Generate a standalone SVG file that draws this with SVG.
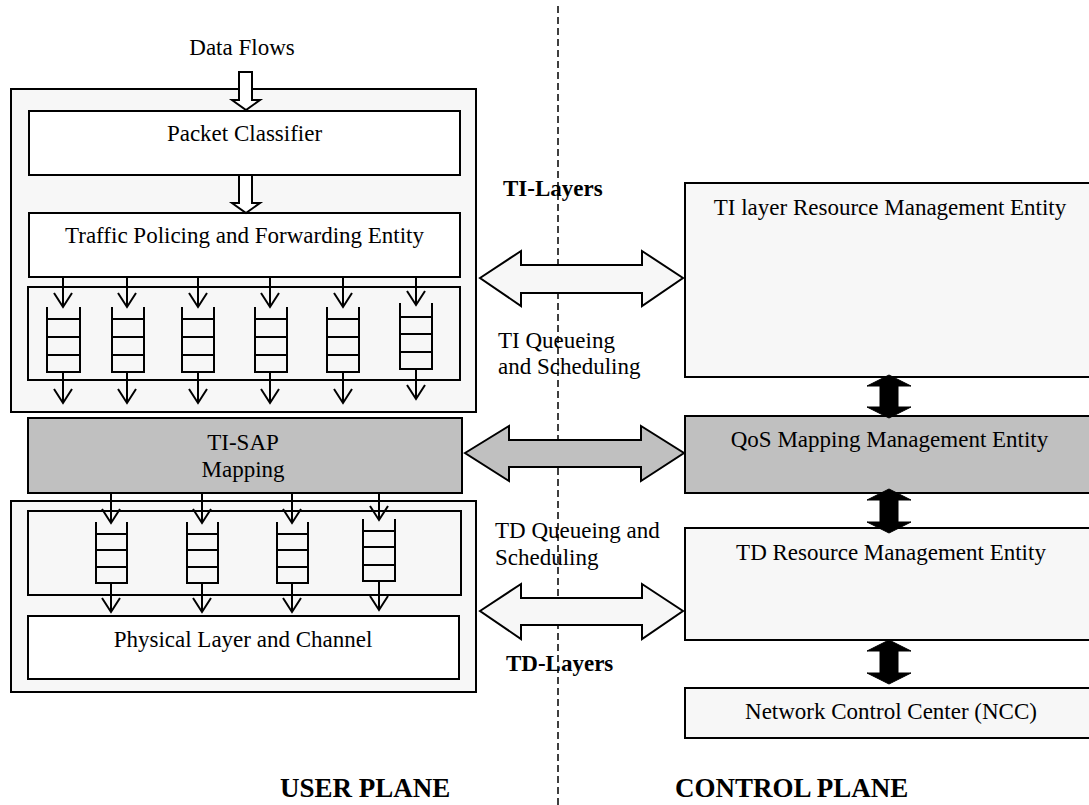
<svg xmlns="http://www.w3.org/2000/svg" width="1089" height="805" viewBox="0 0 1089 805">
  <style>
    .box { stroke: #000; stroke-width: 2; }
    .light { fill: #f7f7f7; }
    .white { fill: #ffffff; }
    .grey { fill: #c0c0c0; }
    .t { font-family: "Liberation Serif", "Times New Roman", serif; font-size: 23px; fill: #000; }
    .b { font-family: "Liberation Serif", "Times New Roman", serif; font-size: 23px; font-weight: bold; fill: #000; }
    .big { font-family: "Liberation Serif", "Times New Roman", serif; font-size: 27px; font-weight: bold; fill: #000; }
    .mid { text-anchor: middle; }
    .q { fill: none; stroke: #000; stroke-width: 2; }
    .flow { fill: none; stroke: #000; stroke-width: 2; }
    .dbl { stroke: #000; stroke-width: 2; stroke-linejoin: miter; }
    .solid { fill: #000; stroke: #000; stroke-width: 1; }
    .divider { stroke: #000; stroke-width: 1.5; stroke-dasharray: 7 4; fill: none; }
  </style>

  <rect width="1089" height="805" fill="#ffffff"/>

  <!-- user plane, upper block (TI layers) -->
  <g id="ti-block">
    <rect class="box light" x="11" y="89" width="465" height="323"/>
  </g>

  <g id="packet-classifier">
    <rect class="box white" x="29" y="111" width="431" height="64"/>
    <text class="t mid" x="244.5" y="141">Packet Classifier</text>
  </g>

  <g id="traffic-policing">
    <rect class="box white" x="29" y="213" width="431" height="64"/>
    <text class="t mid" x="244.5" y="243">Traffic Policing and Forwarding Entity</text>
  </g>

  <g id="ti-queues">
    <rect class="box light" x="28" y="287" width="432" height="93"/>
    <path class="q" d="M47,307 V372 H80 V307 M47,319 H80 M47,337 H80 M47,355 H80"/>
    <path class="q" d="M112,307 V372 H144 V307 M112,319 H144 M112,337 H144 M112,355 H144"/>
    <path class="q" d="M182,307 V372 H214 V307 M182,319 H214 M182,337 H214 M182,355 H214"/>
    <path class="q" d="M255,307 V372 H287 V307 M255,319 H287 M255,337 H287 M255,355 H287"/>
    <path class="q" d="M327,307 V372 H359 V307 M327,319 H359 M327,337 H359 M327,355 H359"/>
    <path class="q" d="M400,303 V369 H432 V303 M400,317 H432 M400,334 H432 M400,352 H432"/>
  </g>

  <g id="ti-sap-mapping">
    <rect class="box grey" x="28" y="418" width="434" height="75"/>
    <text class="t mid" x="243" y="450">TI-SAP</text>
    <text class="t mid" x="243" y="477">Mapping</text>
  </g>

  <!-- user plane, lower block (TD layers) -->
  <g id="td-block">
    <rect class="box light" x="11" y="501" width="465" height="191"/>
  </g>

  <g id="td-queues">
    <rect class="box light" x="28" y="511" width="433" height="84"/>
    <path class="q" d="M96,522 V583 H127 V522 M96,534 H127 M96,550 H127 M96,567 H127"/>
    <path class="q" d="M187,522 V583 H218 V522 M187,534 H218 M187,550 H218 M187,567 H218"/>
    <path class="q" d="M277,522 V583 H308 V522 M277,534 H308 M277,550 H308 M277,567 H308"/>
    <path class="q" d="M363,519 V581 H395 V519 M363,531 H395 M363,547 H395 M363,565 H395"/>
  </g>

  <g id="physical-layer">
    <rect class="box white" x="28" y="616" width="431" height="63"/>
    <text class="t mid" x="243" y="647">Physical Layer and Channel</text>
  </g>

  <!-- control plane entities -->
  <g id="ti-rme">
    <rect class="box light" x="685" y="183" width="420" height="194"/>
    <text class="t mid" x="890" y="215">TI layer Resource Management Entity</text>
  </g>

  <g id="qos-mme">
    <rect class="box grey" x="685" y="416" width="420" height="77"/>
    <text class="t mid" x="889.5" y="447">QoS Mapping Management Entity</text>
  </g>

  <g id="td-rme">
    <rect class="box light" x="685" y="528" width="420" height="112"/>
    <text class="t mid" x="891" y="560">TD Resource Management Entity</text>
  </g>

  <g id="ncc">
    <rect class="box light" x="685" y="688" width="420" height="50"/>
    <text class="t mid" x="891" y="719">Network Control Center (NCC)</text>
  </g>

  <!-- free labels -->
  <g id="labels">
    <text class="t mid" x="242" y="55">Data Flows</text>
    <text class="b" x="503" y="196">TI-Layers</text>
    <text class="t" x="498" y="348">TI Queueing</text>
    <text class="t" x="498" y="374">and Scheduling</text>
    <text class="t" x="495" y="538">TD Queueing and</text>
    <text class="t" x="495" y="565">Scheduling</text>
    <text class="b" x="506" y="671">TD-Layers</text>
    <text class="big" x="280" y="797">USER PLANE</text>
    <text class="big" x="675" y="797">CONTROL PLANE</text>
  </g>

  <!-- plane divider -->
  <line class="divider" x1="558" y1="6" x2="558" y2="805"/>

  <g id="connectors">
    <!-- incoming data flow arrows -->
    <polygon class="dbl white" points="239,72 252,72 252,100 260,100 246,110 232,100 239,100"/>
    <polygon class="dbl white" points="239,175 252,175 252,203 260,203 246,213 232,203 239,203"/>

    <!-- per-queue flows, TI -->
    <path class="flow" d="M63,277 V307 M54,293 L63,307 L72,293"/>
    <path class="flow" d="M127,277 V307 M118,293 L127,307 L136,293"/>
    <path class="flow" d="M198,277 V307 M189,293 L198,307 L207,293"/>
    <path class="flow" d="M270,277 V307 M261,293 L270,307 L279,293"/>
    <path class="flow" d="M343,277 V307 M334,293 L343,307 L352,293"/>
    <path class="flow" d="M416,277 V305 M407,291 L416,305 L425,291"/>

    <path class="flow" d="M63,372 V403 M54,389 L63,403 L72,389"/>
    <path class="flow" d="M127,372 V403 M118,389 L127,403 L136,389"/>
    <path class="flow" d="M198,372 V403 M189,389 L198,403 L207,389"/>
    <path class="flow" d="M270,372 V403 M261,389 L270,403 L279,389"/>
    <path class="flow" d="M343,372 V403 M334,389 L343,403 L352,389"/>
    <path class="flow" d="M416,369 V399 M407,385 L416,399 L425,385"/>

    <!-- per-queue flows, TD -->
    <path class="flow" d="M111,493 V523 M102,509 L111,523 L120,509"/>
    <path class="flow" d="M202,493 V523 M193,509 L202,523 L211,509"/>
    <path class="flow" d="M292,493 V523 M283,509 L292,523 L301,509"/>
    <path class="flow" d="M379,493 V520 M370,506 L379,520 L388,506"/>

    <path class="flow" d="M111,583 V612 M102,598 L111,612 L120,598"/>
    <path class="flow" d="M202,583 V612 M193,598 L202,612 L211,598"/>
    <path class="flow" d="M292,583 V612 M283,598 L292,612 L301,598"/>
    <path class="flow" d="M379,581 V610 M370,596 L379,610 L388,596"/>

    <!-- user plane to control plane interfaces -->
    <polygon class="dbl light" points="480,278 521,251 521,265 642,265 642,251 683,278 642,306 642,293 521,293 521,306"/>
    <polygon class="dbl grey" points="465,453 509,426 509,440 641,440 641,426 684,453 641,481 641,467 509,467 509,481"/>
    <polygon class="dbl light" points="480,611 521,584 521,598 642,598 642,584 683,611 642,639 642,625 521,625 521,639"/>

    <!-- control plane links -->
    <polygon class="solid" points="889,375 911,386 898,386 898,407 911,407 889,418 867,407 880,407 880,386 867,386"/>
    <polygon class="solid" points="889,489 911,500 898,500 898,522 911,522 889,533 867,522 880,522 880,500 867,500"/>
    <polygon class="solid" points="889,640 911,651 898,651 898,673 911,673 889,684 867,673 880,673 880,651 867,651"/>
  </g>
</svg>
